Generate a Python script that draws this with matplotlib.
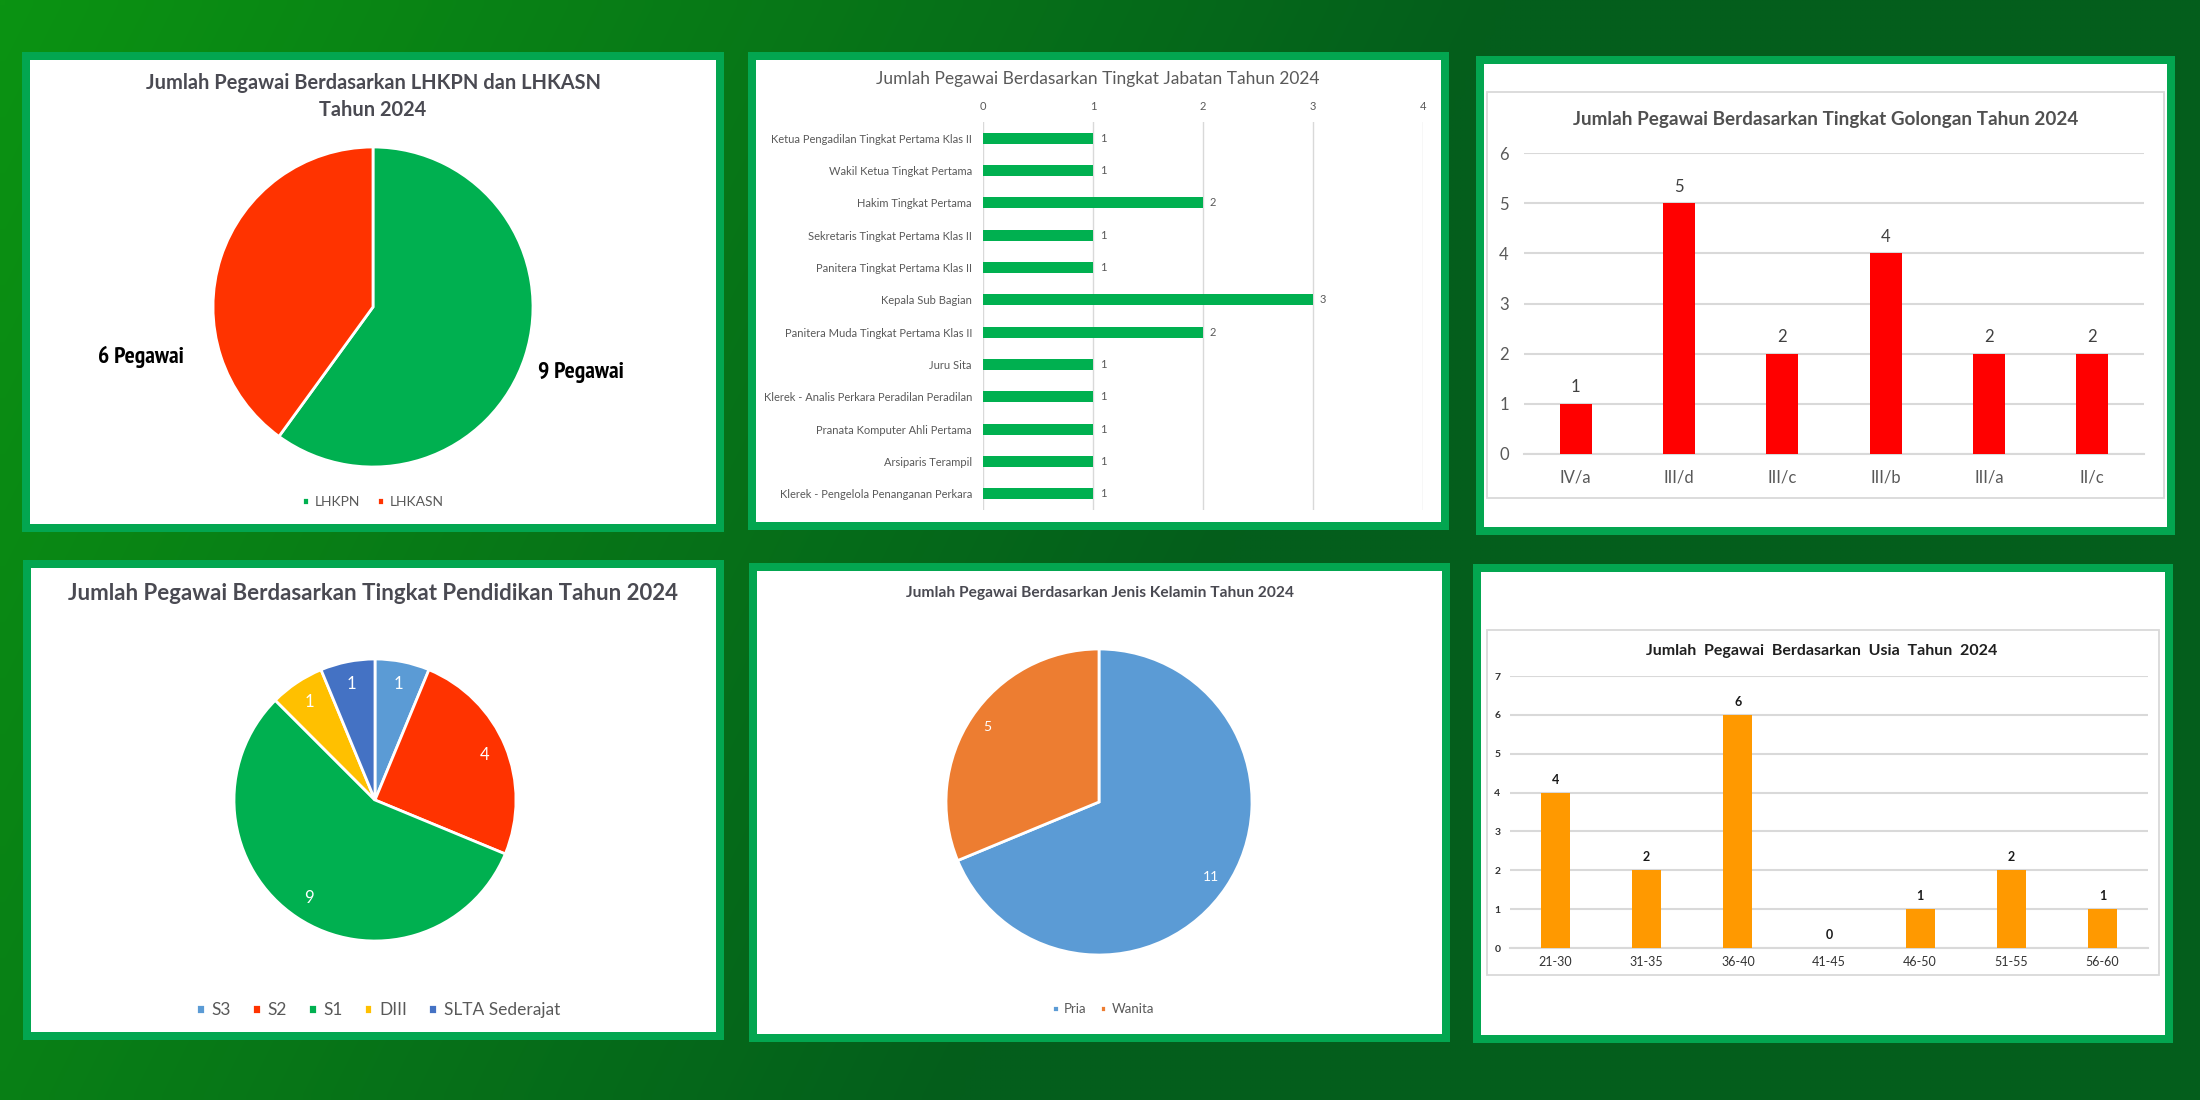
import numpy as np
import matplotlib

matplotlib.use("Agg")
import matplotlib.pyplot as plt
from matplotlib import font_manager
from matplotlib.font_manager import FontProperties
from matplotlib.patches import Rectangle

# Canvas size in pixels
W, H = 2200, 1100

# Data
lhk_labels = ["LHKPN", "LHKASN"]
lhk_values = [9, 6]
lhk_colors = ["#00b050", "#ff3300"]

jabatan_labels = [
    "Ketua Pengadilan Tingkat Pertama Klas II",
    "Wakil Ketua Tingkat Pertama",
    "Hakim Tingkat Pertama",
    "Sekretaris Tingkat Pertama Klas II",
    "Panitera Tingkat Pertama Klas II",
    "Kepala Sub Bagian",
    "Panitera Muda Tingkat Pertama Klas II",
    "Juru Sita",
    "Klerek - Analis Perkara Peradilan Peradilan",
    "Pranata Komputer Ahli Pertama",
    "Arsiparis Terampil",
    "Klerek - Pengelola Penanganan Perkara",
]
jabatan_values = [1, 1, 2, 1, 1, 3, 2, 1, 1, 1, 1, 1]

golongan_labels = ["IV/a", "III/d", "III/c", "III/b", "III/a", "II/c"]
golongan_values = [1, 5, 2, 4, 2, 2]

pendidikan_labels = ["S3", "S2", "S1", "DIII", "SLTA Sederajat"]
pendidikan_values = [1, 4, 9, 1, 1]
pendidikan_colors = ["#5b9bd5", "#ff3300", "#00b050", "#ffc000", "#4472c4"]

gender_labels = ["Pria", "Wanita"]
gender_values = [11, 5]
gender_colors = ["#5b9bd5", "#ed7d31"]

usia_labels = ["21-30", "31-35", "36-40", "41-45", "46-50", "51-55", "56-60"]
usia_values = [4, 2, 6, 0, 1, 2, 1]

# Fonts
fonts = font_manager.fontManager.ttflist
names = {f.name for f in fonts}
BASE = "Lato" if "Lato" in names else "DejaVu Sans"
plt.rcParams["font.family"] = [BASE, "DejaVu Sans"]


def weight_num(w):
    if isinstance(w, (int, float)):
        return w
    return font_manager.weight_dict.get(w, 400)


# look for a bold condensed face for the "x Pegawai" labels
narrow_fp = None
cands = []
for f in fonts:
    cond = ("Narrow" in f.name or "Condensed" in f.name
            or f.stretch in ("condensed", "semi-condensed", "extra-condensed")
            or "Condensed" in f.fname or "Narrow" in f.fname)
    if cond and weight_num(f.weight) >= 600 and f.style == "normal" and "Mono" not in f.name:
        cands.append(f)
if cands:
    cands.sort(key=lambda f: ("Narrow" not in f.name and "Narrow" not in f.fname,
                              "ExtraCondensed" in f.fname, abs(weight_num(f.weight) - 700)))
    narrow_fp = FontProperties(fname=cands[0].fname, size=17)
    narrow_fp_size = 17
else:
    narrow_fp = FontProperties(family=BASE, weight="bold", size=13)

BORDER = "#03a650"
GRID = "#d9d9d9"
GRAY = "#595959"

fig = plt.figure(figsize=(22, 11), dpi=100)


def px_axes(x0, y0, x1, y1):
    return fig.add_axes([x0 / W, 1 - y1 / H, (x1 - x0) / W, (y1 - y0) / H])


def pie_axes(cx, cy, r, pad=1.04):
    return px_axes(cx - r * pad, cy - r * pad, cx + r * pad, cy + r * pad)


# Background gradient
bg = fig.add_axes([0, 0, 1, 1])
xx, yy = np.meshgrid(np.linspace(0, W, 220), np.linspace(0, H, 110))
t = np.clip((xx + 0.5 * yy) / 1500, 0, 1)
c0 = np.array([0x0b, 0x93, 0x12]) / 255
c1 = np.array([0x04, 0x5e, 0x1c]) / 255
img = c0 + (c1 - c0) * t[..., None]
bg.imshow(img, extent=(0, W, H, 0), aspect="auto", interpolation="bilinear")
bg.set_xlim(0, W)
bg.set_ylim(H, 0)
bg.axis("off")

# Panel frames
panels = [
    (22, 52, 724, 532),
    (748, 52, 1449, 530),
    (1476, 56, 2175, 535),
    (23, 560, 724, 1040),
    (749, 563, 1450, 1042),
    (1473, 564, 2173, 1043),
]
for x0, y0, x1, y1 in panels:
    bg.add_patch(Rectangle((x0, y0), x1 - x0, y1 - y0, facecolor=BORDER, edgecolor="none"))
    bg.add_patch(Rectangle((x0 + 8, y0 + 8), x1 - x0 - 16, y1 - y0 - 16,
                           facecolor="white", edgecolor="none"))

# inner chart-area borders of panels 3 and 6
bg.add_patch(Rectangle((1487, 92), 677, 406, facecolor="none", edgecolor=GRID, lw=1.3))
bg.add_patch(Rectangle((1487, 630), 672, 345, facecolor="none", edgecolor=GRID, lw=1.3))

# Titles
bg.text(373, 83, "Jumlah Pegawai Berdasarkan LHKPN dan LHKASN", ha="center", va="center",
        fontsize=14.4, fontweight="bold", color="#4a4a52")
bg.text(373, 110, "Tahun 2024", ha="center", va="center",
        fontsize=14.4, fontweight="bold", color="#4a4a52")
bg.text(1098, 79, "Jumlah Pegawai Berdasarkan Tingkat Jabatan Tahun 2024", ha="center",
        va="center", fontsize=12.5, color=GRAY)
bg.text(1826, 119, "Jumlah Pegawai Berdasarkan Tingkat Golongan Tahun 2024", ha="center",
        va="center", fontsize=13.6, fontweight="bold", color="#505050")
bg.text(373, 593, "Jumlah Pegawai Berdasarkan Tingkat Pendidikan Tahun 2024", ha="center",
        va="center", fontsize=16, fontweight="bold", color="#4a4a52")
bg.text(1100, 593, "Jumlah Pegawai Berdasarkan Jenis Kelamin Tahun 2024", ha="center",
        va="center", fontsize=11.2, fontweight="bold", color="#4a4a52")
bg.text(1822, 651, "Jumlah  Pegawai  Berdasarkan  Usia  Tahun  2024", ha="center",
        va="center", fontsize=11.5, fontweight="bold", color="#1f1f1f")

# 1) LHKPN / LHKASN pie
ax1 = pie_axes(373, 307, 160)
w1, _ = ax1.pie(lhk_values, colors=lhk_colors, startangle=90, counterclock=False,
                wedgeprops=dict(edgecolor="white", linewidth=2))
ax1.set_xlim(-1.04, 1.04)
ax1.set_ylim(-1.04, 1.04)
for val, (px, py), ha in zip(lhk_values, [(1.03, -0.41), (-1.18, -0.31)], ["left", "right"]):
    ax1.text(px, py, f"{val} Pegawai", ha=ha, va="center", fontproperties=narrow_fp,
             color="black", clip_on=False)
ax1.legend(w1, lhk_labels, loc="center", bbox_to_anchor=(373 / W, 1 - 502 / H),
           bbox_transform=fig.transFigure, ncol=2, frameon=False, fontsize=10,
           handlelength=0.5, handleheight=0.5, handletextpad=0.4, columnspacing=1.2,
           labelcolor=GRAY)

# 2) Jabatan horizontal bars
ax2 = px_axes(983, 122, 1423, 510)
ypos = np.arange(len(jabatan_labels))
b2 = ax2.barh(ypos, jabatan_values, height=0.34, color="#00b050", zorder=3)
ax2.set_ylim(len(jabatan_labels) - 0.5, -0.5)
ax2.set_xlim(0, 4)
ax2.set_xticks(range(5))
ax2.xaxis.tick_top()
ax2.set_yticks(ypos, jabatan_labels)
ax2.tick_params(length=0, labelsize=8, labelcolor=GRAY)
ax2.tick_params(axis="y", pad=8)
ax2.tick_params(axis="x", pad=7)
ax2.grid(axis="x", color=GRID, lw=1)
for s in ax2.spines.values():
    s.set_visible(False)
ax2.set_facecolor("none")
ax2.bar_label(b2, padding=5, fontsize=8, color=GRAY)

# 3) Golongan bars
ax3 = px_axes(1524, 153, 2144, 454)
xpos = np.arange(len(golongan_labels))
b3 = ax3.bar(xpos, golongan_values, width=0.31, color="#ff0000", zorder=3)
ax3.set_xlim(-0.5, len(golongan_labels) - 0.5)
ax3.set_ylim(0, 6)
ax3.set_xticks(xpos, golongan_labels)
ax3.set_yticks(range(7))
ax3.grid(axis="y", color=GRID, lw=1.5)
for name, s in ax3.spines.items():
    s.set_visible(name == "bottom")
ax3.spines["bottom"].set_color(GRID)
ax3.spines["bottom"].set_linewidth(1.5)
ax3.tick_params(length=0, labelsize=12, labelcolor=GRAY)
ax3.tick_params(axis="y", pad=11)
ax3.tick_params(axis="x", pad=11)
ax3.set_facecolor("none")
ax3.bar_label(b3, padding=6, fontsize=12, color="#404040")

# 4) Pendidikan pie
ax4 = pie_axes(375, 800, 141)
tot4 = sum(pendidikan_values)
w4, _, _ = ax4.pie(pendidikan_values, colors=pendidikan_colors, startangle=90,
                   counterclock=False, autopct=lambda p: f"{round(p * tot4 / 100)}",
                   pctdistance=0.84, textprops=dict(color="white", fontsize=12),
                   wedgeprops=dict(edgecolor="white", linewidth=2))
ax4.set_xlim(-1.04, 1.04)
ax4.set_ylim(-1.04, 1.04)
ax4.legend(w4, pendidikan_labels, loc="center", bbox_to_anchor=(378 / W, 1 - 1010 / H),
           bbox_transform=fig.transFigure, ncol=5, frameon=False, fontsize=12.5,
           handlelength=0.5, handleheight=0.5, handletextpad=0.4, columnspacing=1.2,
           labelcolor=GRAY)

# 5) Jenis kelamin pie
ax5 = pie_axes(1099, 802, 153)
tot5 = sum(gender_values)
w5, _, _ = ax5.pie(gender_values, colors=gender_colors, startangle=90,
                   counterclock=False, autopct=lambda p: f"{round(p * tot5 / 100)}",
                   pctdistance=0.88, textprops=dict(color="white", fontsize=10),
                   wedgeprops=dict(edgecolor="white", linewidth=2))
ax5.set_xlim(-1.04, 1.04)
ax5.set_ylim(-1.04, 1.04)
ax5.legend(w5, gender_labels, loc="center", bbox_to_anchor=(1103 / W, 1 - 1009 / H),
           bbox_transform=fig.transFigure, ncol=2, frameon=False, fontsize=9.5,
           handlelength=0.5, handleheight=0.5, handletextpad=0.4, columnspacing=1.0,
           labelcolor=GRAY)

# 6) Usia bars
ax6 = px_axes(1510, 676, 2148, 948)
xpos6 = np.arange(len(usia_labels))
b6 = ax6.bar(xpos6, usia_values, width=0.32, color="#ff9900", zorder=3)
ax6.set_xlim(-0.5, len(usia_labels) - 0.5)
ax6.set_ylim(0, 7)
ax6.set_xticks(xpos6, usia_labels)
ax6.set_yticks(range(8))
ax6.grid(axis="y", color=GRID, lw=1.5)
for name, s in ax6.spines.items():
    s.set_visible(name == "bottom")
ax6.spines["bottom"].set_color(GRID)
ax6.spines["bottom"].set_linewidth(1.5)
ax6.tick_params(length=0, labelcolor="#333333")
ax6.tick_params(axis="y", pad=7, labelsize=7.5)
ax6.tick_params(axis="x", pad=6, labelsize=9)
for lbl in ax6.get_yticklabels():
    lbl.set_fontweight("bold")
ax6.set_facecolor("none")
ax6.bar_label(b6, padding=5, fontsize=9, fontweight="bold", color="#1a1a1a")

fig.savefig("out.png", dpi=100)
